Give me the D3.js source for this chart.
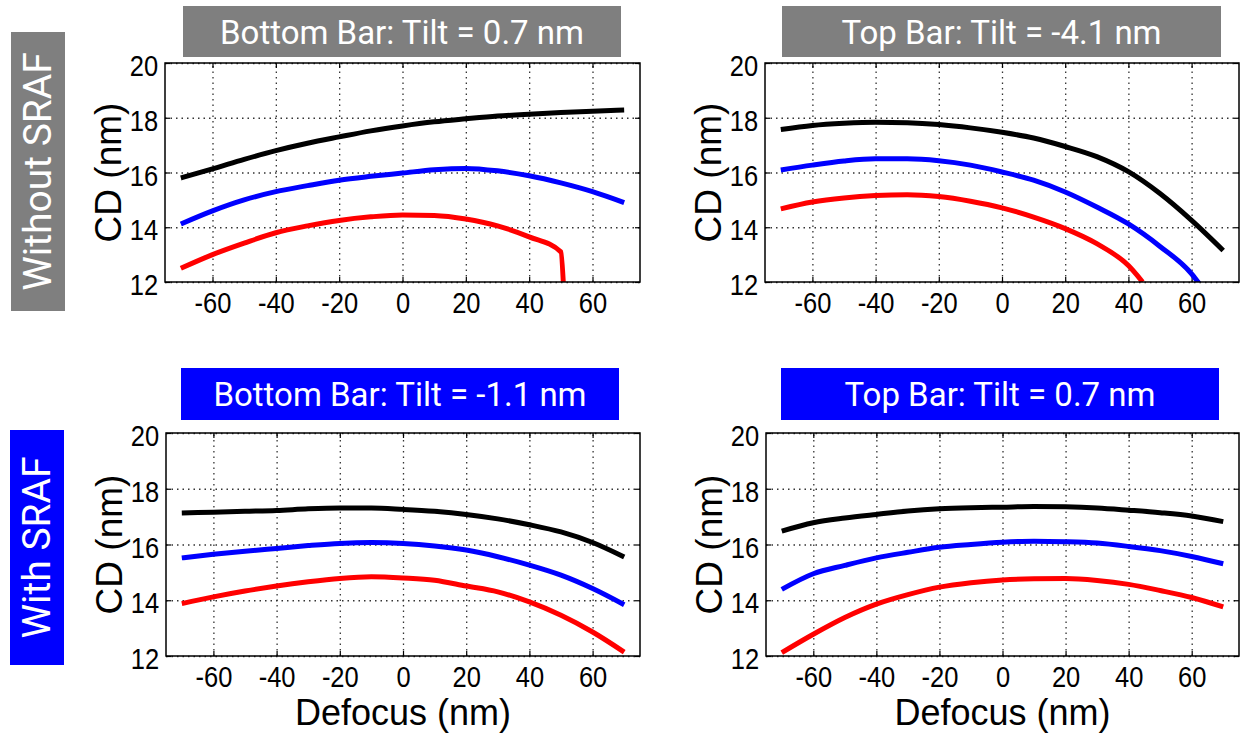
<!DOCTYPE html>
<html>
<head>
<meta charset="utf-8">
<script src="https://cdn.jsdelivr.net/npm/d3@7"></script>
<style>
  body { margin: 0; background: #fff; }
  .tick-lbl text { font-family: 'Liberation Sans', Arial, sans-serif; font-size: 30px; fill: #000; }
  .grid line { stroke: #333; stroke-width: 1.3; stroke-dasharray: 1.5,4; }
  .grid path, .tick-lbl path, .tick-lbl line { display: none; }
  .inner-tick line { stroke: #000; stroke-width: 1.2; }
  .inner-tick path { display: none; }
</style>
</head>
<body>
<div id="chart"></div>
<script>
// Data
var defocus = [-70, -60, -50, -40, -30, -20, -10, 0, 10, 20, 30, 40, 50, 60, 70]
var xTicks = [-60, -40, -20, 0, 20, 40, 60]
var yTicks = [12, 14, 16, 18, 20]

// Without SRAF, Bottom Bar
var tlBlack = [15.8, 16.13, 16.48, 16.8, 17.07, 17.3, 17.52, 17.7, 17.85, 17.96, 18.06, 18.13, 18.19, 18.24, 18.28]
var tlBlue = [14.12, 14.6, 15.0, 15.3, 15.52, 15.72, 15.86, 15.98, 16.1, 16.15, 16.06, 15.88, 15.62, 15.3, 14.9]
var tlRedX = [-70, -60, -50, -40, -30, -20, -10, 0, 10, 20, 30, 40, 50, 51]
var tlRed = [12.5, 13.0, 13.42, 13.8, 14.05, 14.25, 14.38, 14.45, 14.43, 14.3, 14.05, 13.65, 13.1, 11.5]

// Without SRAF, Top Bar
var trBlack = [17.57, 17.72, 17.8, 17.84, 17.82, 17.75, 17.63, 17.47, 17.26, 16.95, 16.58, 16.03, 15.23, 14.25, 13.15]
var trBlueX = [-70, -60, -50, -40, -30, -20, -10, 0, 10, 20, 30, 40, 50, 60, 63]
var trBlue = [16.09, 16.27, 16.42, 16.5, 16.5, 16.43, 16.27, 16.02, 15.72, 15.29, 14.74, 14.12, 13.3, 12.3, 11.85]
var trRedX = [-70, -60, -50, -40, -30, -20, -10, 0, 10, 20, 30, 40, 44.5]
var trRed = [14.67, 14.92, 15.07, 15.16, 15.19, 15.12, 14.95, 14.71, 14.37, 13.95, 13.4, 12.6, 12.0]

// With SRAF, Bottom Bar
var blBlack = [17.13, 17.16, 17.19, 17.22, 17.28, 17.31, 17.31, 17.26, 17.19, 17.08, 16.92, 16.71, 16.45, 16.07, 15.55]
var blBlue = [15.52, 15.65, 15.76, 15.86, 15.96, 16.04, 16.07, 16.04, 15.95, 15.8, 15.56, 15.26, 14.9, 14.42, 13.84]
var blRed = [13.88, 14.12, 14.33, 14.51, 14.66, 14.78, 14.84, 14.8, 14.72, 14.51, 14.3, 13.94, 13.46, 12.86, 12.14]

// With SRAF, Top Bar
var brBlack = [16.48, 16.78, 16.95, 17.08, 17.2, 17.28, 17.32, 17.34, 17.36, 17.35, 17.31, 17.23, 17.14, 17.02, 16.82]
var brBlue = [14.39, 14.95, 15.25, 15.52, 15.72, 15.9, 16.0, 16.08, 16.12, 16.1, 16.05, 15.93, 15.78, 15.57, 15.31]
var brRed = [12.12, 12.78, 13.38, 13.86, 14.2, 14.47, 14.63, 14.73, 14.77, 14.78, 14.71, 14.57, 14.35, 14.1, 13.76]

var titles = ['Bottom Bar: Tilt = 0.7 nm', 'Top Bar: Tilt = -4.1 nm', 'Bottom Bar: Tilt = -1.1 nm', 'Top Bar: Tilt = 0.7 nm']
var rowLabels = ['Without SRAF', 'With SRAF']

var GRAY = '#7f7f7f'
var BLUE = '#0000ff'

function pairs(xs, ys) {
  return ys.map((y, i) => [xs[i], y])
}

var panels = [
  { left: 165, top: 63, w: 475, h: 219, title: titles[0], box: [183, 6, 438, 51], fill: GRAY, xLabel: false,
    series: [[pairs(defocus, tlBlack), '#000'], [pairs(defocus, tlBlue), BLUE], [pairs(tlRedX, tlRed), '#f00']] },
  { left: 765, top: 63, w: 474, h: 219, title: titles[1], box: [782, 6, 439, 51], fill: GRAY, xLabel: false,
    series: [[pairs(defocus, trBlack), '#000'], [pairs(trBlueX, trBlue), BLUE], [pairs(trRedX, trRed), '#f00']] },
  { left: 166, top: 433, w: 474, h: 223, title: titles[2], box: [181, 368, 438, 52], fill: BLUE, xLabel: true,
    series: [[pairs(defocus, blBlack), '#000'], [pairs(defocus, blBlue), BLUE], [pairs(defocus, blRed), '#f00']] },
  { left: 766, top: 433, w: 473, h: 223, title: titles[3], box: [781, 368, 438, 52], fill: BLUE, xLabel: true,
    series: [[pairs(defocus, brBlack), '#000'], [pairs(defocus, brBlue), BLUE], [pairs(defocus, brRed), '#f00']] }
]

var svg = d3.select('#chart').append('svg')
  .attr('width', 1241).attr('height', 733)
  .style('background', '#fff')

// Row labels on the left
var rowBoxes = [[11, 32, 54, 279, GRAY], [10, 430, 54, 235, BLUE]]
rowBoxes.forEach(function(b, i) {
  svg.append('rect').attr('x', b[0]).attr('y', b[1]).attr('width', b[2]).attr('height', b[3]).attr('fill', b[4])
  svg.append('text')
    .attr('transform', `translate(${b[0] + b[2] / 2 + 13},${b[1] + b[3] / 2}) rotate(-90)`)
    .attr('text-anchor', 'middle')
    .style('font-family', 'Roboto, sans-serif')
    .style('font-size', '39px')
    .attr('fill', '#fff')
    .text(rowLabels[i])
})

panels.forEach(function(p, idx) {
  // title box
  svg.append('rect')
    .attr('x', p.box[0]).attr('y', p.box[1]).attr('width', p.box[2]).attr('height', p.box[3])
    .attr('fill', p.fill)
  svg.append('text')
    .attr('x', p.box[0] + p.box[2] / 2)
    .attr('y', p.box[1] + p.box[3] / 2 + 12)
    .attr('text-anchor', 'middle')
    .style('font-family', 'Roboto, sans-serif')
    .style('font-size', '33px')
    .attr('fill', '#fff')
    .text(p.title)

  var x = d3.scaleLinear().domain([-75, 75]).range([0, p.w])
  var y = d3.scaleLinear().domain([12, 20]).range([p.h, 0])

  var g = svg.append('g').attr('transform', `translate(${p.left},${p.top})`)

  // dotted grid
  g.append('g').attr('class', 'grid')
    .attr('transform', `translate(0,${p.h})`)
    .call(d3.axisBottom(x).tickValues(xTicks).tickSize(-p.h).tickFormat(''))
  g.append('g').attr('class', 'grid')
    .call(d3.axisLeft(y).tickValues(yTicks).tickSize(-p.w).tickFormat(''))

  // small inward ticks on all four sides
  g.append('g').attr('class', 'inner-tick').attr('transform', `translate(0,${p.h})`)
    .call(d3.axisBottom(x).tickValues(xTicks).tickSize(-5).tickFormat(''))
  g.append('g').attr('class', 'inner-tick')
    .call(d3.axisTop(x).tickValues(xTicks).tickSize(-5).tickFormat(''))
  g.append('g').attr('class', 'inner-tick')
    .call(d3.axisLeft(y).tickValues(yTicks).tickSize(-5).tickFormat(''))
  g.append('g').attr('class', 'inner-tick').attr('transform', `translate(${p.w},0)`)
    .call(d3.axisRight(y).tickValues(yTicks).tickSize(-5).tickFormat(''))

  // tick labels (plain hyphen minus, condensed like the original)
  g.append('g').attr('class', 'tick-lbl')
    .attr('transform', `translate(0,${p.h})`)
    .call(d3.axisBottom(x).tickValues(xTicks).tickSize(0).tickPadding(10).tickFormat(d => String(d)))
    .selectAll('text').attr('transform', 'scale(0.85,1)')
  g.append('g').attr('class', 'tick-lbl')
    .call(d3.axisLeft(y).tickValues(yTicks).tickSize(0).tickPadding(8).tickFormat(d => String(d)))
    .selectAll('text').attr('dy', '0.42em').attr('transform', 'scale(0.85,1)')

  // curves
  g.append('clipPath').attr('id', 'clip' + idx)
    .append('rect').attr('width', p.w).attr('height', p.h)

  var line = d3.line()
    .x(d => x(d[0]))
    .y(d => y(d[1]))
    .curve(d3.curveMonotoneX)

  p.series.forEach(function(s) {
    g.append('path')
      .datum(s[0])
      .attr('d', line)
      .attr('clip-path', `url(#clip${idx})`)
      .attr('fill', 'none')
      .attr('stroke', s[1])
      .attr('stroke-width', 5)
      .attr('stroke-linejoin', 'round')
  })

  // frame
  g.append('rect')
    .attr('width', p.w).attr('height', p.h)
    .attr('fill', 'none').attr('stroke', '#000').attr('stroke-width', 1.5)

  // axis titles
  g.append('text')
    .attr('transform', `translate(-44,${p.h / 2}) rotate(-90)`)
    .attr('text-anchor', 'middle')
    .style('font-family', "'Liberation Sans', sans-serif")
    .style('font-size', '37px')
    .text('CD (nm)')

  if (p.xLabel) {
    g.append('text')
      .attr('x', x(0))
      .attr('y', p.h + 69)
      .attr('text-anchor', 'middle')
      .style('font-family', "'Liberation Sans', sans-serif")
      .style('font-size', '36px')
      .text('Defocus (nm)')
  }
})
</script>
</body>
</html>
